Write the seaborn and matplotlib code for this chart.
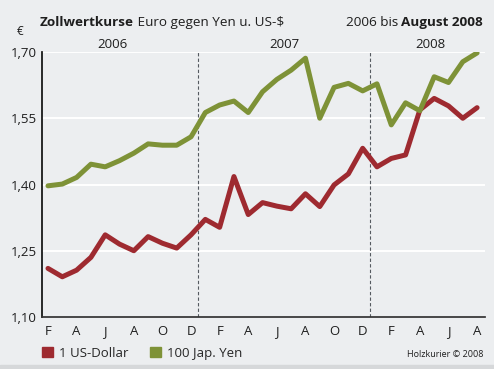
import pandas as pd
import matplotlib.pyplot as plt
import matplotlib.patches as mpatches
import seaborn as sns

# Monatswerte Feb 2006 bis Aug 2008
monate = ['F', 'M', 'A', 'M', 'J', 'J', 'A', 'S', 'O', 'N', 'D',
          'J', 'F', 'M', 'A', 'M', 'J', 'J', 'A', 'S', 'O', 'N', 'D',
          'J', 'F', 'M', 'A', 'M', 'J', 'J', 'A']
usd = [1.210, 1.191, 1.206, 1.235, 1.286, 1.265, 1.250, 1.282, 1.267, 1.256, 1.286,
       1.321, 1.303, 1.418, 1.332, 1.359, 1.351, 1.345, 1.379, 1.350, 1.399, 1.424, 1.482,
       1.440, 1.459, 1.467, 1.569, 1.595, 1.578, 1.550, 1.574]
yen = [1.397, 1.401, 1.416, 1.446, 1.440, 1.454, 1.471, 1.492, 1.489, 1.489, 1.508,
       1.563, 1.580, 1.589, 1.563, 1.610, 1.638, 1.659, 1.686, 1.550, 1.620, 1.629, 1.612,
       1.628, 1.535, 1.585, 1.567, 1.644, 1.631, 1.678, 1.698]
serien = ['1 US-Dollar', '100 Jap. Yen']
farben = ['#9e2a30', '#7e9237']
jahre = ['2006', '2007', '2008']
y_ticks = [1.10, 1.25, 1.40, 1.55, 1.70]

datos = pd.DataFrame({
    'idx': list(range(len(monate))) * 2,
    'wert': usd + yen,
    'serie': [serien[0]] * len(usd) + [serien[1]] * len(yen),
})

sns.set_theme(style='white')
plt.rcParams['font.family'] = ['Open Sans', 'DejaVu Sans']

bg = '#eceef0'
txt = '#1e1e1e'
fig = plt.figure(figsize=(4.94, 3.69), dpi=100, facecolor=bg)
ax = fig.add_axes([0.085, 0.141, 0.897, 0.718])
ax.set_facecolor(bg)

sns.lineplot(data=datos, x='idx', y='wert', hue='serie', palette=farben,
             linewidth=3.6, legend=False, ax=ax, zorder=3)

ax.set_xlim(-0.42, 30.56)
ax.set_ylim(1.10, 1.70)
for v in y_ticks[1:]:
    ax.axhline(v, color='white', linewidth=1.4, zorder=1)
# Jahreswechsel
for xb in [10.5, 22.5]:
    ax.axvline(xb, color='#555a60', linewidth=0.8, linestyle=(0, (3, 2)), zorder=2)

ax.set_yticks(y_ticks)
ax.set_yticklabels([f'{v:.2f}'.replace('.', ',') for v in y_ticks], fontsize=9.5, color=txt)
ax.set_xticks(range(0, len(monate), 2))
ax.set_xticklabels(monate[::2], fontsize=9.5, color=txt)
ax.tick_params(axis='both', length=0, pad=4)
ax.tick_params(axis='x', pad=6)
ax.set_xlabel('')
ax.set_ylabel('')
for s in ['top', 'right']:
    ax.spines[s].set_visible(False)
ax.spines['left'].set_color('#111111')
ax.spines['bottom'].set_color('#333333')

# Jahreszahlen ueber der Grafik
for j, xc in zip(jahre, [4.5, 16.5, 26.7]):
    ax.text(xc, 1.703, j, ha='center', va='bottom', fontsize=9.5, color=txt)

# Titel (fett/normal gemischt)
t1 = fig.text(0.081, 0.94, 'Zollwertkurse', fontsize=9.7, fontweight='bold',
              ha='left', va='center', color=txt)
ax.annotate(' Euro gegen Yen u. US-$', xy=(1, 0.5), xycoords=t1, ha='left', va='center',
            fontsize=9.7, color=txt, annotation_clip=False)
t3 = fig.text(0.978, 0.94, 'August 2008', fontsize=9.7, fontweight='bold',
              ha='right', va='center', color=txt)
ax.annotate('2006 bis ', xy=(0, 0.5), xycoords=t3, ha='right', va='center',
            fontsize=9.7, color=txt, annotation_clip=False)
fig.text(0.04, 0.915, '€', fontsize=8.5, ha='center', va='center', color=txt)

# Legende
handles = [mpatches.Patch(color=c, label=l) for c, l in zip(farben, serien)]
fig.legend(handles=handles, loc='center left', bbox_to_anchor=(0.075, 0.043), ncol=2,
           frameon=False, fontsize=9.5, handlelength=0.8, handleheight=0.8,
           handletextpad=0.5, columnspacing=1.6, borderaxespad=0)
fig.text(0.978, 0.04, 'Holzkurier © 2008', fontsize=6.5, ha='right', va='center', color=txt)

fig.add_artist(mpatches.Rectangle((0, 0), 1, 0.012, transform=fig.transFigure,
                                  color='#d6d8da', zorder=0))

plt.savefig('out.png', dpi=100, facecolor=bg)
